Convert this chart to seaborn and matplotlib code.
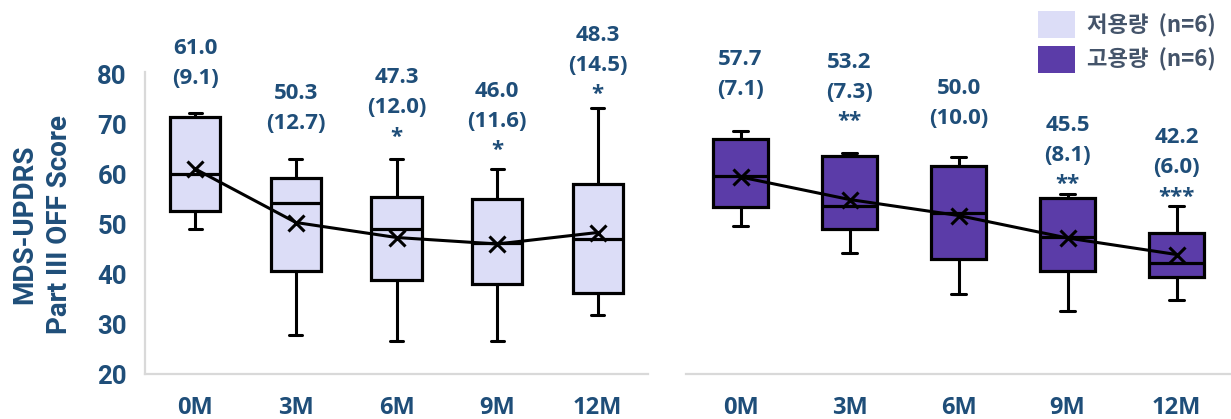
import matplotlib
matplotlib.use("Agg")
import matplotlib.pyplot as plt
from matplotlib.patches import Patch
import seaborn as sns
import pandas as pd

# ---- data -------------------------------------------------------------
months = ["0M", "3M", "6M", "9M", "12M"]

# low-dose group (n=6): whisker low, Q1, median, Q3, whisker high, mean, SD
low_whislo = [49.0, 27.8, 26.7, 26.7, 31.9]
low_q1 = [52.7, 40.7, 38.9, 38.0, 36.2]
low_med = [60.0, 54.2, 49.0, 46.3, 47.0]
low_q3 = [71.5, 59.2, 55.5, 55.0, 58.0]
low_whishi = [72.2, 63.1, 63.1, 61.0, 73.2]
low_mean = [61.0, 50.3, 47.3, 46.0, 48.3]
low_sd = [9.1, 12.7, 12.0, 11.6, 14.5]
low_sig = ["", "", "*", "*", "*"]

# high-dose group (n=6)
high_whislo = [47.9, 42.6, 34.3, 31.0, 33.1]
high_q1 = [51.8, 47.3, 41.3, 39.0, 37.8]
high_med = [58.0, 52.0, 50.6, 45.7, 40.6]
high_q3 = [65.3, 61.9, 60.0, 53.5, 46.6]
high_whishi = [66.9, 62.6, 61.7, 54.3, 52.0]
high_mean = [57.7, 53.2, 50.0, 45.5, 42.2]
high_sd = [7.1, 7.3, 10.0, 8.1, 6.0]
high_sig = ["", "**", "", "**", "***"]

group_labels = ["저용량  (n=6)", "고용량  (n=6)"]

# ---- style ------------------------------------------------------------
sns.set_theme(style="white")
plt.rcParams["font.family"] = ["Open Sans", "Noto Sans CJK KR", "DejaVu Sans"]
plt.rcParams["font.weight"] = "bold"

TEXT = "#1F4E79"
LOW_FILL = "#DCDDF7"
HIGH_FILL = "#5B3CA8"
SPINE = "#D9D9D9"
AXIS_FONT = ["Roboto", "DejaVu Sans"]

W, H = 1231, 419
fig = plt.figure(figsize=(W / 100, H / 100), dpi=100)
ax_l = fig.add_axes([145 / W, 45 / H, 503 / W, 302 / H])
ax_r = fig.add_axes([686 / W, 45 / H, 545 / W, 302 / H])

# pixel offsets (from whisker top) to the lowest annotation line
lift_l = [36.7, 37.3, 28, 25, 20]
lift_r = [43.7, 37.7, 40.6, 16, 15]


def draw_panel(ax, whislo, q1, med, q3, whishi, mean, sd, sig, fill, ylim, lifts):
    stats = []
    for i in range(len(months)):
        stats.append(dict(whislo=whislo[i], q1=q1[i], med=med[i], q3=q3[i],
                          whishi=whishi[i], mean=mean[i], fliers=[], label=months[i]))
    ax.bxp(stats, positions=range(len(months)), widths=0.5, capwidths=0.13,
           patch_artist=True, showfliers=False, showmeans=False,
           boxprops=dict(facecolor=fill, edgecolor="black", linewidth=2.3),
           whiskerprops=dict(color="black", linewidth=2.2),
           capprops=dict(color="black", linewidth=2.2),
           medianprops=dict(color="black", linewidth=2.3),
           zorder=2)
    df = pd.DataFrame({"month": months, "mean": mean})
    sns.pointplot(data=df, x="month", y="mean", order=months, ax=ax,
                  color="black", markers="x", errorbar=None,
                  markersize=11, markeredgewidth=2.2, linewidth=2.2, zorder=5)
    ax.set_xlim(-0.5, len(months) - 0.5)
    ax.set_ylim(*ylim)
    ax.set_xlabel("")
    ax.set_ylabel("")
    ax.set_xticks(range(len(months)))
    ax.set_xticklabels(months, fontsize=17, fontweight="bold", color=TEXT)
    ax.tick_params(axis="x", length=0, pad=16)
    for s in ["top", "right"]:
        ax.spines[s].set_visible(False)
    ax.spines["bottom"].set_color(SPINE)
    ax.spines["bottom"].set_linewidth(1.6)

    # mean / (SD) / significance annotations above each box
    pt = 0.72  # points per pixel at 100 dpi
    for i in range(len(months)):
        L = lifts[i]
        lines = []
        if sig[i]:
            lines.append((sig[i], L, 12.0))
            lines.append((f"({sd[i]:.1f})", L + 25, 7.8))
            lines.append((f"{mean[i]:.1f}", L + 55, 7.8))
        else:
            lines.append((f"({sd[i]:.1f})", L, 7.8))
            lines.append((f"{mean[i]:.1f}", L + 30, 7.8))
        for txt, up, half in lines:
            ax.annotate(txt, xy=(i, whishi[i]), xytext=(0, (up - half) * pt),
                        textcoords="offset points", ha="center", va="baseline",
                        fontsize=16, fontweight="bold", color=TEXT,
                        annotation_clip=False)


draw_panel(ax_l, low_whislo, low_q1, low_med, low_q3, low_whishi,
           low_mean, low_sd, low_sig, LOW_FILL, (20, 80.4), lift_l)
draw_panel(ax_r, high_whislo, high_q1, high_med, high_q3, high_whishi,
           high_mean, high_sd, high_sig, HIGH_FILL, (18.3, 78.7), lift_r)

# left panel y axis
ax_l.set_yticks(range(20, 81, 10))
ax_l.set_yticklabels([str(v) for v in range(20, 81, 10)], fontsize=18.5,
                     fontweight="bold", color=TEXT, family=AXIS_FONT)
ax_l.tick_params(axis="y", length=0, pad=13)
ax_l.spines["left"].set_color(SPINE)
ax_l.spines["left"].set_linewidth(1.6)

# right panel: no visible y axis
ax_r.set_yticks([])
ax_r.spines["left"].set_visible(False)

fig.text(42 / W, 1 - 224 / H, "MDS-UPDRS\nPart III OFF Score", rotation=90,
         ha="center", va="center", multialignment="center", linespacing=1.4,
         fontsize=20, fontweight="bold", color=TEXT, family=AXIS_FONT)

# legend
handles = [Patch(facecolor=LOW_FILL, edgecolor="none"),
           Patch(facecolor=HIGH_FILL, edgecolor="none")]
fig.legend(handles, group_labels, loc="upper left",
           bbox_to_anchor=(1038 / W, 1 - 11.5 / H), frameon=False,
           handlelength=1.67, handleheight=1.49,
           handletextpad=0.53, labelspacing=0.33, borderpad=0,
           borderaxespad=0, labelcolor="#44546A",
           prop={"weight": "bold", "size": 16,
                 "family": ["Noto Sans CJK KR", "Open Sans"]})

fig.savefig("out.png", dpi=100)
